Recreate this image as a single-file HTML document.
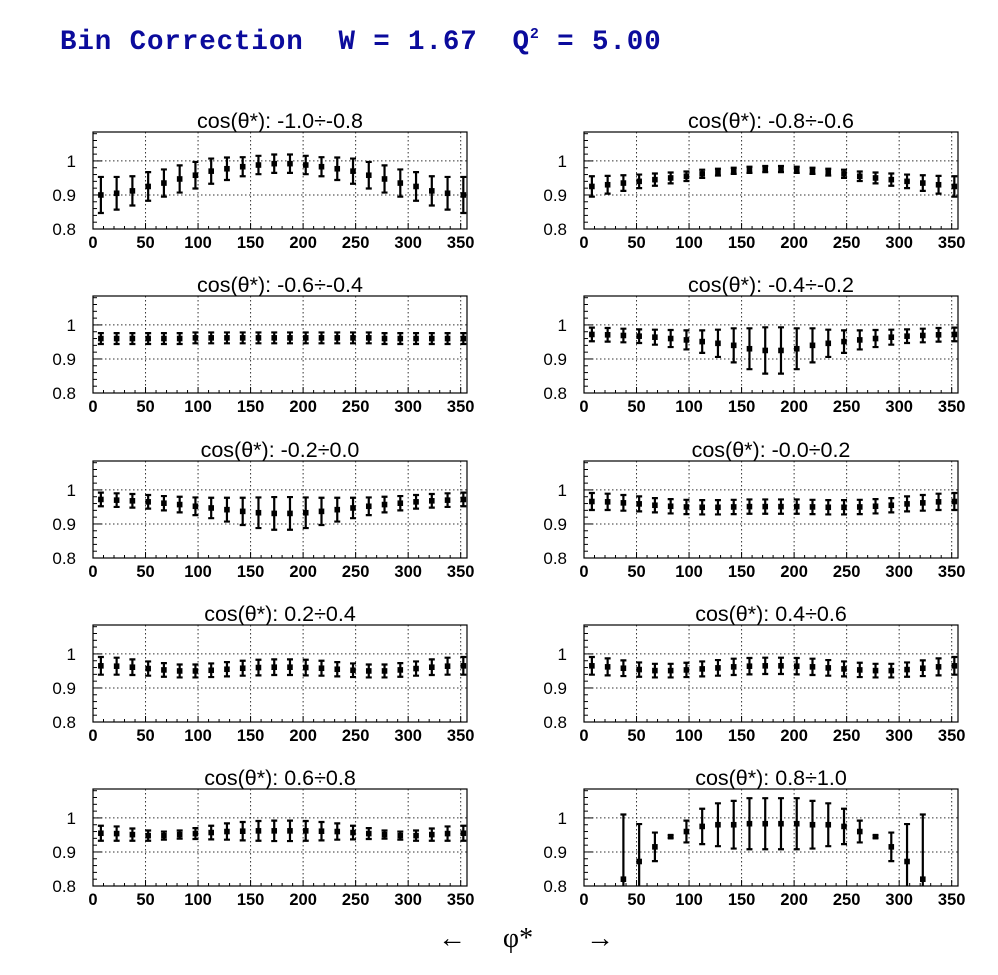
<!DOCTYPE html>
<html><head><meta charset="utf-8"><style>
body{margin:0;background:#fff;width:998px;height:975px;overflow:hidden}
svg{display:block}
</style></head><body>
<svg id="c" width="998" height="975" xmlns="http://www.w3.org/2000/svg">
<text x="60" y="49" font-family="Liberation Mono, monospace" font-weight="bold" font-size="27.5" letter-spacing="0.9" fill="#0b0b9c" xml:space="preserve">Bin Correction  W = 1.67  Q<tspan dy="-11" font-size="15">2</tspan><tspan dy="11"> = 5.00</tspan></text>
<text x="452" y="947" text-anchor="middle" font-family="Liberation Serif, DejaVu Serif, serif" font-size="28">←</text>
<text x="518" y="947" text-anchor="middle" font-family="Liberation Serif, DejaVu Serif, serif" font-size="28">φ*</text>
<text x="600" y="947" text-anchor="middle" font-family="Liberation Serif, DejaVu Serif, serif" font-size="28">→</text>
</svg>
<script>
const panelTitles=["cos(θ*): -1.0÷-0.8","cos(θ*): -0.8÷-0.6","cos(θ*): -0.6÷-0.4","cos(θ*): -0.4÷-0.2","cos(θ*): -0.2÷0.0","cos(θ*): -0.0÷0.2","cos(θ*): 0.2÷0.4","cos(θ*): 0.4÷0.6","cos(θ*): 0.6÷0.8","cos(θ*): 0.8÷1.0"];
const phiBins=[7.5,22.5,37.5,52.5,67.5,82.5,97.5,112.5,127.5,142.5,157.5,172.5,187.5,202.5,217.5,232.5,247.5,262.5,277.5,292.5,307.5,322.5,337.5,352.5];
const xTicks=[0,50,100,150,200,250,300,350];
const yTicks=[0.8,0.9,1];
const yTickLabels=["0.8","0.9","1"];
const v0=[0.90,0.905,0.912,0.925,0.935,0.947,0.958,0.97,0.977,0.983,0.988,0.992,0.992,0.988,0.983,0.977,0.97,0.958,0.947,0.935,0.925,0.912,0.905,0.90];
const e0=[0.053,0.048,0.043,0.042,0.04,0.04,0.039,0.037,0.033,0.028,0.027,0.027,0.027,0.027,0.028,0.033,0.037,0.039,0.04,0.04,0.042,0.043,0.048,0.053];
const v1=[0.925,0.93,0.935,0.94,0.945,0.95,0.955,0.962,0.967,0.971,0.974,0.976,0.976,0.974,0.971,0.967,0.962,0.955,0.95,0.945,0.94,0.935,0.93,0.925];
const e1=[0.03,0.026,0.023,0.02,0.018,0.016,0.014,0.012,0.01,0.009,0.009,0.009,0.009,0.009,0.009,0.01,0.012,0.014,0.016,0.018,0.02,0.023,0.026,0.03];
const v2=[0.96,0.96,0.96,0.96,0.96,0.96,0.962,0.962,0.962,0.962,0.962,0.962,0.962,0.962,0.962,0.962,0.962,0.962,0.96,0.96,0.96,0.96,0.96,0.96];
const e2=[0.016,0.016,0.016,0.016,0.016,0.016,0.016,0.016,0.016,0.016,0.016,0.016,0.016,0.016,0.016,0.016,0.016,0.016,0.016,0.016,0.016,0.016,0.016,0.016];
const v3=[0.972,0.971,0.969,0.967,0.964,0.96,0.956,0.951,0.946,0.94,0.93,0.925,0.925,0.93,0.94,0.946,0.951,0.956,0.96,0.964,0.967,0.969,0.971,0.972];
const e3=[0.02,0.02,0.02,0.02,0.022,0.025,0.028,0.033,0.04,0.05,0.06,0.068,0.068,0.06,0.05,0.04,0.033,0.028,0.025,0.022,0.02,0.02,0.02,0.02];
const v4=[0.972,0.97,0.968,0.965,0.961,0.957,0.952,0.947,0.942,0.937,0.933,0.931,0.931,0.933,0.937,0.942,0.947,0.952,0.957,0.961,0.965,0.968,0.97,0.972];
const e4=[0.02,0.02,0.02,0.02,0.021,0.023,0.026,0.03,0.035,0.04,0.045,0.048,0.048,0.045,0.04,0.035,0.03,0.026,0.023,0.021,0.02,0.02,0.02,0.02];
const v5=[0.966,0.965,0.962,0.959,0.955,0.952,0.95,0.949,0.949,0.95,0.951,0.951,0.951,0.951,0.95,0.949,0.949,0.95,0.952,0.955,0.959,0.962,0.965,0.966];
const e5=[0.025,0.024,0.023,0.022,0.021,0.021,0.021,0.021,0.021,0.021,0.021,0.021,0.021,0.021,0.021,0.021,0.021,0.021,0.021,0.021,0.022,0.023,0.024,0.025];
const v6=[0.965,0.964,0.961,0.957,0.953,0.95,0.95,0.952,0.955,0.958,0.96,0.961,0.961,0.96,0.958,0.955,0.952,0.95,0.95,0.953,0.957,0.961,0.964,0.965];
const e6=[0.026,0.025,0.023,0.021,0.02,0.019,0.019,0.02,0.021,0.022,0.023,0.023,0.023,0.023,0.022,0.021,0.02,0.019,0.019,0.02,0.021,0.023,0.025,0.026];
const v7=[0.965,0.962,0.958,0.954,0.951,0.951,0.953,0.956,0.959,0.962,0.964,0.965,0.965,0.964,0.962,0.959,0.956,0.953,0.951,0.951,0.954,0.958,0.962,0.965];
const e7=[0.026,0.025,0.023,0.021,0.02,0.02,0.021,0.022,0.023,0.024,0.024,0.024,0.024,0.024,0.024,0.023,0.022,0.021,0.02,0.02,0.021,0.023,0.025,0.026];
const v8=[0.955,0.954,0.951,0.948,0.948,0.951,0.954,0.957,0.96,0.961,0.962,0.962,0.962,0.962,0.961,0.96,0.957,0.954,0.951,0.948,0.948,0.951,0.954,0.955];
const e8=[0.022,0.021,0.018,0.015,0.012,0.012,0.016,0.02,0.024,0.027,0.029,0.03,0.03,0.029,0.027,0.024,0.02,0.016,0.012,0.012,0.015,0.018,0.021,0.022];
const v9=[0.6,0.7,0.82,0.872,0.915,0.945,0.96,0.975,0.98,0.98,0.983,0.983,0.983,0.983,0.98,0.98,0.975,0.96,0.945,0.915,0.872,0.82,0.7,0.6];
const e9=[0,0,0.19,0.11,0.042,0.004,0.032,0.052,0.063,0.07,0.075,0.075,0.075,0.075,0.07,0.063,0.052,0.032,0.004,0.042,0.11,0.19,0,0];
const values=[v0,v1,v2,v3,v4,v5,v6,v7,v8,v9];
const errors=[e0,e1,e2,e3,e4,e5,e6,e7,e8,e9];

const NS="http://www.w3.org/2000/svg";
const svg=document.getElementById('c');
function mk(tag,attrs,parent){const el=document.createElementNS(NS,tag);for(const k in attrs)el.setAttribute(k,attrs[k]);(parent||svg).appendChild(el);return el;}
const XMIN=0,XMAX=356,YMIN=0.8,YMAX=1.085;
const PW=374,PH=97;
for(let p=0;p<10;p++){
  const col=p%2,row=Math.floor(p/2);
  const L=col?584:93, B=[229,393,558,722,886][row], T=B-PH;
  const xs=x=>L+(x-XMIN)/(XMAX-XMIN)*PW;
  const ys=y=>B-(y-YMIN)/(YMAX-YMIN)*PH;
  const g=mk('g',{});
  
  
  const cp=mk('clipPath',{id:'cp'+p},g);mk('rect',{x:L,y:T,width:PW,height:PH},cp);
  const t=mk('text',{x:L+PW/2,y:T-4,'text-anchor':'middle','font-family':'Liberation Sans, sans-serif','font-size':21.5},g);
  t.textContent=panelTitles[p];
  
  
  xTicks.forEach(v=>{if(v>0&&v<XMAX){const l=mk('line',{x1:xs(v),x2:xs(v),y1:T,y2:B,stroke:'#000','stroke-width':1,'stroke-dasharray':'1.5,2.5',opacity:0.8},g);
    }});
  [0.9,1].forEach(v=>{const l=mk('line',{x1:L,x2:L+PW,y1:ys(v),y2:ys(v),stroke:'#000','stroke-width':1,'stroke-dasharray':'1.5,2.5',opacity:0.8},g);
    });
  const fr=mk('rect',{x:L,y:T,width:PW,height:PH,fill:'none',stroke:'#000','stroke-width':1.2},g);
  
  for(let k=0;k<=28;k+=2){const v=0.8+k*0.01;if(v>YMAX)break;const big=k%10==0;
    mk('line',{x1:L,x2:L+(big?9:4),y1:ys(v),y2:ys(v),stroke:'#000','stroke-width':1},g);}
  yTicks.forEach((v,i)=>{const tt=mk('text',{x:L-17,y:ys(v)+6,'text-anchor':'end','font-family':'Liberation Sans, sans-serif','font-size':17},g);
    tt.textContent=yTickLabels[i];});
  for(let v=0;v<=XMAX;v+=10){const big=v%50==0;mk('line',{x1:xs(v),x2:xs(v),y1:B,y2:B-(big?6:3),stroke:'#000','stroke-width':1},g);}
  xTicks.forEach(v=>{const tt=mk('text',{x:xs(v),y:B+19,'text-anchor':'middle','font-family':'Liberation Sans, sans-serif','font-size':16.5,'font-weight':'bold'},g);
    tt.textContent=String(v);});
  const dg=mk('g',{'clip-path':'url(#cp'+p+')'},g);
  phiBins.forEach((x,i)=>{
    const y=values[p][i],e=errors[p][i];
    const px=xs(x),py=ys(y);
    const eb=mk('path',{d:`M${px},${ys(y-e)}V${ys(y+e)}M${px-3},${ys(y-e)}h6M${px-3},${ys(y+e)}h6`,stroke:'#000','stroke-width':2.2,fill:'none'},dg);
    
    const m=mk('rect',{x:px-2.8,y:py-2.8,width:5.6,height:5.6,fill:'#000'},dg);
    
  });
}
</script>
</body></html>
